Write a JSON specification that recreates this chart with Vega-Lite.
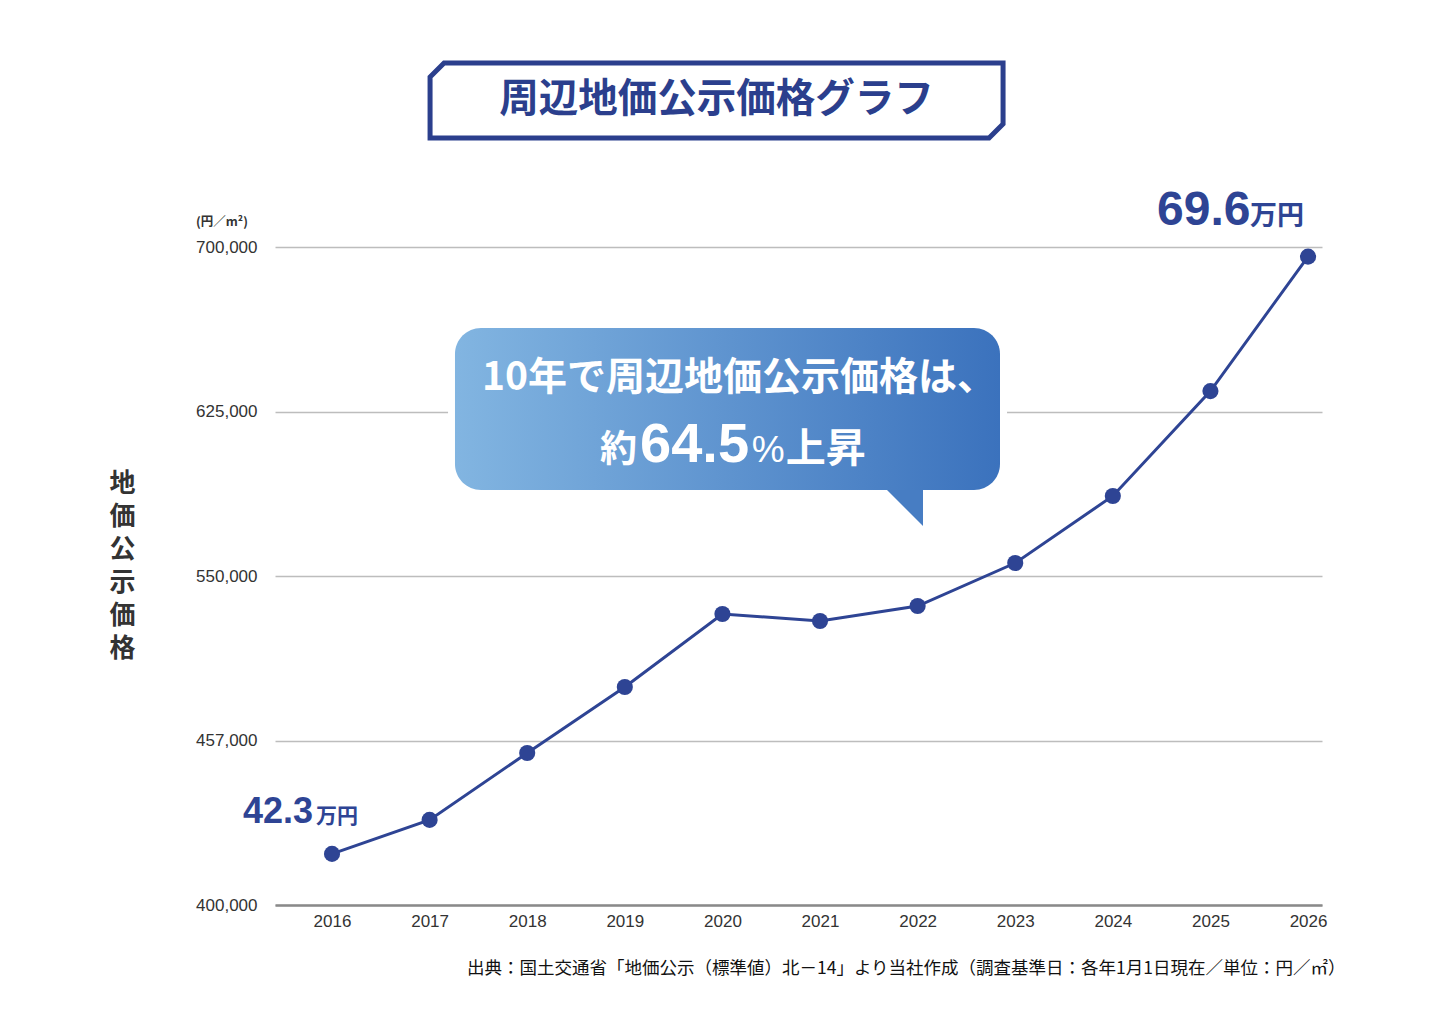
{
  "$schema": "https://vega.github.io/schema/vega-lite/v6.json",
  "description": "周辺地価公示価格グラフ",
  "width": 1047,
  "height": 658,
  "autosize": "none",
  "padding": {"left": 275, "top": 247, "right": 124, "bottom": 105},
  "background": "white",
  "datasets": {
    "prices": [
      {"year": 2016, "price": 423300},
      {"year": 2017, "price": 438800},
      {"year": 2018, "price": 469300},
      {"year": 2019, "price": 499400},
      {"year": 2020, "price": 532700},
      {"year": 2021, "price": 529500},
      {"year": 2022, "price": 536300},
      {"year": 2023, "price": 555900},
      {"year": 2024, "price": 586500},
      {"year": 2025, "price": 634300},
      {"year": 2026, "price": 695600}
    ],
    "one": [{"n": 1}]
  },
  "config": {
    "view": {"stroke": null},
    "text": {"font": "Noto Sans CJK JP"}
  },
  "layer": [
    {
      "data": {"name": "prices"},
      "mark": {"type": "line", "color": "#2e4494", "strokeWidth": 3},
      "encoding": {
        "x": {
          "field": "year", "type": "quantitative",
          "scale": {"domain": [2015.416, 2026.143], "nice": false, "zero": false},
          "axis": {
            "values": [2016, 2017, 2018, 2019, 2020, 2021, 2022, 2023, 2024, 2025, 2026],
            "format": "d", "grid": false, "ticks": false,
            "domainColor": "#8a8a8a", "domainWidth": 2.5,
            "labelFont": "Liberation Sans", "labelFontSize": 17, "labelColor": "#333333",
            "labelPadding": 8, "labelFlush": false,
            "title": "出典：国土交通省「地価公示（標準値）北－14」より当社作成（調査基準日：各年1月1日現在／単位：円／㎡）",
            "titleFont": "Noto Sans CJK JP", "titleFontSize": 17.5, "titleFontWeight": "normal",
            "titleColor": "#111111", "titleAlign": "right", "titleBaseline": "middle",
            "titleX": 1070, "titleY": 63
          }
        },
        "y": {
          "field": "price", "type": "quantitative",
          "scale": {"domain": [400000, 700000], "nice": false, "zero": false},
          "axis": {
            "values": [400000, 475000, 550000, 625000, 700000],
            "labelExpr": "datum.value == 475000 ? '457,000' : format(datum.value, ',')",
            "grid": true, "gridColor": "#bdbdbd", "gridWidth": 1.5,
            "domain": false, "ticks": false,
            "labelFont": "Liberation Sans", "labelFontSize": 17, "labelColor": "#333333",
            "labelPadding": 18,
            "title": ["地", "価", "公", "示", "価", "格"],
            "titleFont": "Noto Sans CJK JP", "titleFontSize": 26, "titleFontWeight": "bold",
            "titleColor": "#333333", "titleAngle": 0, "titleAlign": "center",
            "titleBaseline": "top", "titleX": -153, "titleY": 223, "titleLineHeight": 33
          }
        }
      }
    },
    {
      "data": {"name": "prices"},
      "mark": {"type": "circle", "color": "#2e4494", "size": 260, "opacity": 1},
      "encoding": {
        "x": {"field": "year", "type": "quantitative"},
        "y": {"field": "price", "type": "quantitative"}
      }
    },
    {
      "data": {"name": "one"},
      "mark": {
        "type": "point", "filled": false, "opacity": 1,
        "shape": "M-1,-0.082L-0.951,-0.131L1,-0.131L1,0.082L0.951,0.131L-1,0.131Z",
        "size": 328329, "fill": "white", "fillOpacity": 1,
        "stroke": "#2b3f8d", "strokeWidth": 5
      },
      "encoding": {
        "x": {"datum": 2019.94},
        "y": {"datum": 766796}
      }
    },
    {
      "data": {"name": "one"},
      "mark": {
        "type": "text", "text": "周辺地価公示価格グラフ",
        "fontSize": 39.5, "fontWeight": "bold", "color": "#2b3f8d",
        "align": "center", "baseline": "middle"
      },
      "encoding": {
        "x": {"datum": 2019.94},
        "y": {"datum": 766796}
      }
    },
    {
      "data": {"name": "one"},
      "mark": {"type": "rect", "color": "white", "cornerRadius": 30},
      "encoding": {
        "x": {"datum": 2017.189},
        "x2": {"datum": 2022.916},
        "y": {"datum": 666263},
        "y2": {"datum": 586019}
      }
    },
    {
      "data": {"name": "one"},
      "mark": {
        "type": "point", "filled": true, "opacity": 1,
        "shape": "M-1.4,-1.4L1,-1.4L1,1Z",
        "size": 1156, "color": "#477dc3"
      },
      "encoding": {
        "x": {"datum": 2021.881},
        "y": {"datum": 580548}
      }
    },
    {
      "data": {"name": "one"},
      "mark": {
        "type": "rect", "cornerRadius": 26,
        "fill": {
          "gradient": "linear", "x1": 0, "y1": 0, "x2": 1, "y2": 0,
          "stops": [
            {"offset": 0, "color": "#82b5e1"},
            {"offset": 1, "color": "#3b72bd"}
          ]
        }
      },
      "encoding": {
        "x": {"datum": 2017.26},
        "x2": {"datum": 2022.844},
        "y": {"datum": 663072},
        "y2": {"datum": 589211}
      }
    },
    {
      "data": {"name": "one"},
      "mark": {
        "type": "text", "text": "10年で周辺地価公示価格は、",
        "fontSize": 39, "fontWeight": "bold", "color": "white",
        "align": "center", "baseline": "middle"
      },
      "encoding": {
        "x": {"datum": 2020.17},
        "y": {"datum": 640275}
      }
    },
    {
      "data": {"name": "one"},
      "mark": {
        "type": "text", "text": "約",
        "fontSize": 37, "fontWeight": "bold", "color": "white",
        "align": "right", "baseline": "alphabetic"
      },
      "encoding": {
        "x": {"datum": 2019.125},
        "y": {"datum": 601977}
      }
    },
    {
      "data": {"name": "one"},
      "mark": {
        "type": "text", "text": "64.5", "font": "Liberation Sans",
        "fontSize": 56, "fontWeight": "bold", "color": "white",
        "align": "left", "baseline": "alphabetic"
      },
      "encoding": {
        "x": {"datum": 2019.156},
        "y": {"datum": 601977}
      }
    },
    {
      "data": {"name": "one"},
      "mark": {
        "type": "text", "text": "%", "font": "Liberation Sans",
        "fontSize": 37, "fontWeight": "normal", "color": "white",
        "align": "left", "baseline": "alphabetic"
      },
      "encoding": {
        "x": {"datum": 2020.3},
        "y": {"datum": 601977}
      }
    },
    {
      "data": {"name": "one"},
      "mark": {
        "type": "text", "text": "上昇",
        "fontSize": 40, "fontWeight": "bold", "color": "white",
        "align": "left", "baseline": "alphabetic"
      },
      "encoding": {
        "x": {"datum": 2020.65},
        "y": {"datum": 601977}
      }
    },
    {
      "data": {"name": "one"},
      "mark": {
        "type": "text", "text": "42.3", "font": "Liberation Sans",
        "fontSize": 36, "fontWeight": "bold", "color": "#2e4494",
        "align": "left", "baseline": "alphabetic"
      },
      "encoding": {
        "x": {"datum": 2015.088},
        "y": {"datum": 437386}
      }
    },
    {
      "data": {"name": "one"},
      "mark": {
        "type": "text", "text": "万円",
        "fontSize": 21, "fontWeight": "bold", "color": "#2e4494",
        "align": "left", "baseline": "alphabetic"
      },
      "encoding": {
        "x": {"datum": 2015.836},
        "y": {"datum": 437386}
      }
    },
    {
      "data": {"name": "one"},
      "mark": {
        "type": "text", "text": "69.6", "font": "Liberation Sans",
        "fontSize": 48, "fontWeight": "bold", "color": "#2e4494",
        "align": "left", "baseline": "alphabetic"
      },
      "encoding": {
        "x": {"datum": 2024.453},
        "y": {"datum": 710032}
      }
    },
    {
      "data": {"name": "one"},
      "mark": {
        "type": "text", "text": "万円",
        "fontSize": 27, "fontWeight": "bold", "color": "#2e4494",
        "align": "left", "baseline": "alphabetic"
      },
      "encoding": {
        "x": {"datum": 2025.406},
        "y": {"datum": 710032}
      }
    },
    {
      "data": {"name": "one"},
      "mark": {
        "type": "text", "text": "(円／m²)",
        "fontSize": 12.5, "fontWeight": "bold", "color": "#333333",
        "align": "center", "baseline": "middle"
      },
      "encoding": {
        "x": {"datum": 2014.873},
        "y": {"datum": 711400}
      }
    }
  ]
}
